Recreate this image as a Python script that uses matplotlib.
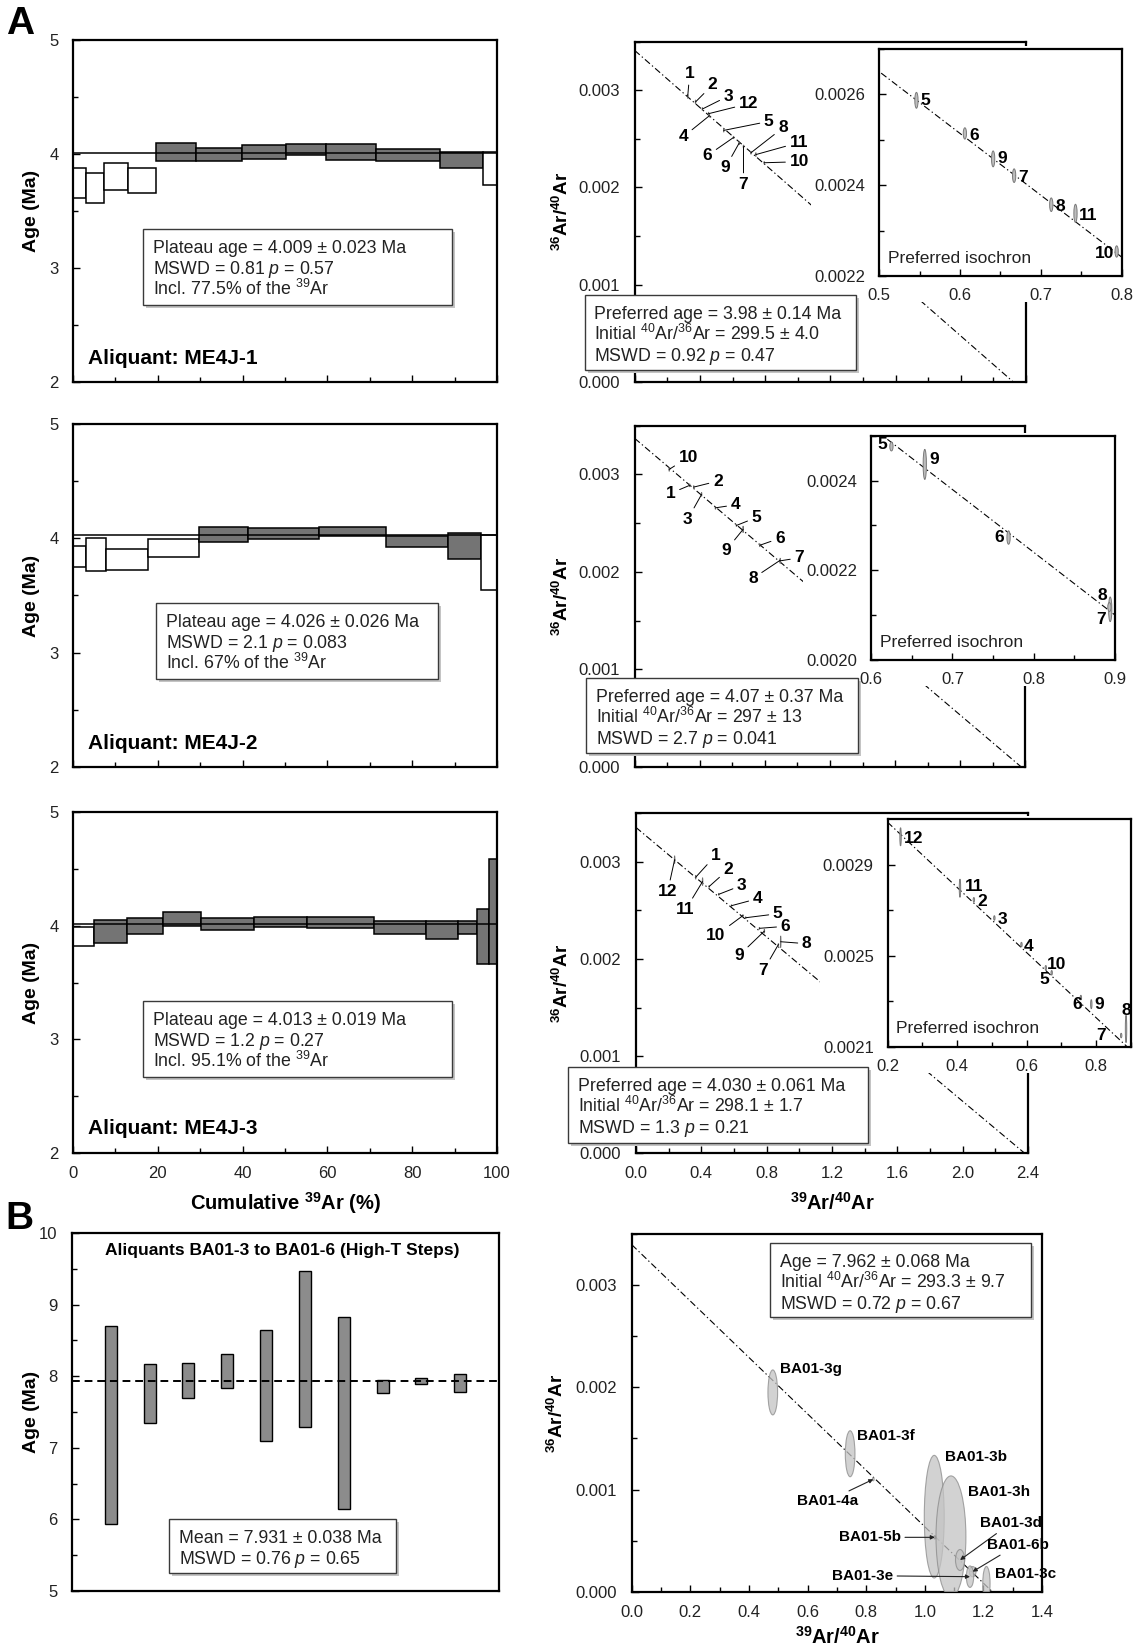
import matplotlib
matplotlib.use("Agg")
import matplotlib.pyplot as plt
import numpy as np
from matplotlib.patches import Ellipse, Rectangle
from matplotlib.ticker import FormatStrFormatter, MultipleLocator

W, H = 1140, 1647  # output size in pixels

plt.rcParams["font.family"] = ["Liberation Sans", "DejaVu Sans"]
plt.rcParams["mathtext.fontset"] = "custom"
plt.rcParams["mathtext.rm"] = "Liberation Sans"
plt.rcParams["mathtext.it"] = "Liberation Sans:italic"
plt.rcParams["mathtext.bf"] = "Liberation Sans:bold"

# ---------------- data ----------------
# age spectra: step edges (cumulative 39Ar, %), step tops / bottoms (Ma)
me4j1_edges = [0, 3.0, 7.3, 12.9, 19.5, 29.0, 39.8, 50.2, 59.7, 71.5, 86.6, 96.6, 100]
me4j1_top = [3.88, 3.83, 3.92, 3.88, 4.10, 4.05, 4.08, 4.09, 4.09, 4.04, 4.02, 4.02]
me4j1_bot = [3.61, 3.57, 3.68, 3.66, 3.94, 3.94, 3.96, 3.99, 3.95, 3.94, 3.88, 3.73]
me4j1_used = [0, 0, 0, 0, 1, 1, 1, 1, 1, 1, 1, 0]
me4j1_plateau = 4.009

me4j2_edges = [0, 3.0, 7.8, 17.7, 29.7, 41.3, 58.1, 73.8, 88.4, 96.2, 100]
me4j2_top = [3.93, 4.00, 3.91, 3.99, 4.10, 4.09, 4.10, 4.02, 4.05, 4.03]
me4j2_bot = [3.75, 3.71, 3.72, 3.84, 3.97, 3.99, 4.02, 3.92, 3.82, 3.55]
me4j2_used = [0, 0, 0, 0, 1, 1, 1, 1, 1, 0]
me4j2_plateau = 4.026

me4j3_edges = [0, 5.0, 12.8, 21.3, 30.2, 42.8, 55.2, 70.9, 83.2, 90.7, 95.2, 98.1, 100]
me4j3_top = [3.99, 4.05, 4.07, 4.12, 4.07, 4.08, 4.08, 4.04, 4.04, 4.04, 4.15, 4.59]
me4j3_bot = [3.82, 3.85, 3.93, 4.00, 3.96, 3.99, 3.98, 3.93, 3.88, 3.93, 3.66, 3.66]
me4j3_used = [0, 1, 1, 1, 1, 1, 1, 1, 1, 1, 1, 1]
me4j3_plateau = 4.013

# isochrons: step label, 39Ar/40Ar, 36Ar/40Ar, 36Ar/40Ar error (full height)
iso_sx = 0.004  # 39Ar/40Ar error (full width), all steps
iso1_labels = ["1", "2", "3", "12", "4", "5", "6", "9", "7", "8", "11", "10"]
iso1_x = [0.325, 0.373, 0.415, 0.453, 0.458, 0.546, 0.606, 0.641, 0.667, 0.713, 0.743, 0.794]
iso1_y = [0.002937, 0.002880, 0.002807, 0.002759, 0.002738, 0.002587, 0.002514,
          0.002458, 0.002421, 0.002357, 0.002338, 0.002254]
iso1_ey = [0.00004, 0.00004, 0.00003, 0.00003, 0.00003, 0.000035, 0.000025,
           0.000035, 0.00003, 0.00003, 0.00004, 0.000025]
iso1_pref = ["5", "6", "9", "7", "8", "11", "10"]
iso1_fit_main = (0.00341, -0.00147)   # intercept, slope
iso1_fit_inset = (0.00333, -0.00136)

iso2_labels = ["10", "1", "2", "3", "4", "5", "9", "6", "7", "8"]
iso2_x = [0.212, 0.338, 0.363, 0.411, 0.496, 0.625, 0.666, 0.769, 0.894, 0.893]
iso2_y = [0.003052, 0.002888, 0.002870, 0.002795, 0.002657, 0.002476, 0.002436,
          0.002273, 0.002113, 0.002118]
iso2_ey = [0.00004, 0.00003, 0.00003, 0.00004, 0.00003, 0.00002, 0.000067,
           0.00003, 0.000055, 0.00002]
iso2_pref = ["5", "9", "6", "8", "7"]
iso2_fit_main = (0.00337, -0.00142)
iso2_fit_inset = (0.00336, -0.00140)

iso3_labels = ["12", "1", "2", "11", "3", "4", "5", "10", "6", "9", "8", "7"]
iso3_x = [0.237, 0.366, 0.448, 0.408, 0.507, 0.585, 0.672, 0.655, 0.756, 0.786, 0.886, 0.872]
iso3_y = [0.003023, 0.002842, 0.002746, 0.002797, 0.002666, 0.002549, 0.002425,
          0.002447, 0.002316, 0.002287, 0.002178, 0.002149]
iso3_ey = [0.00008, 0.00004, 0.00002, 0.00008, 0.00002, 0.00002, 0.00002,
           0.00002, 0.00002, 0.00004, 0.00012, 0.00002]
iso3_pref = ["12", "11", "2", "3", "4", "10", "5", "6", "9", "8", "7"]
iso3_fit_main = (0.003355, -0.00141)
iso3_fit_inset = (0.003373, -0.001432)

# panel B: high-T step ages (Ma), top / bottom of 2 sigma bars
ba_top = [8.70, 8.17, 8.18, 8.31, 8.65, 9.47, 8.83, 7.95, 7.98, 8.03]
ba_bot = [5.94, 7.35, 7.69, 7.84, 7.10, 7.29, 6.14, 7.77, 7.89, 7.78]
ba_mean = 7.931

# panel B isochron: ellipse centres and full widths / heights
ba_labels = ["BA01-3g", "BA01-3f", "BA01-4a", "BA01-3b", "BA01-3h",
             "BA01-5b", "BA01-3d", "BA01-6b", "BA01-3e", "BA01-3c"]
ba_x = [0.481, 0.745, 0.824, 1.032, 1.089, 1.034, 1.120, 1.163, 1.154, 1.210]
ba_y = [0.00195, 0.00135, 0.00110, 0.000734, 0.000538, 0.000532, 0.00031,
        0.000196, 0.000147, 0.000082]
ba_w = [0.033, 0.033, 0.006, 0.068, 0.102, 0.006, 0.031, 0.023, 0.025, 0.025]
ba_h = [0.00044, 0.00045, 0.00003, 0.00120, 0.00119, 0.00003, 0.000205,
        0.00010, 0.00021, 0.00033]
ba_fit = (0.003395, -0.00276)

# ---------------- layout (pixels, top-left origin) ----------------
SPEC_BOX = [(73, 40, 497, 382), (73, 424, 497, 767), (73, 812, 497, 1153)]
ISO_BOX = [(634.7, 41.7, 1026.1, 381.7), (634.7, 425.7, 1025.3, 766.7),
           (635.9, 813.3, 1028.1, 1153.3)]
INSET_BOX = [(879.3, 49, 1121.5, 276), (871.1, 435.7, 1115.1, 660),
             (887.7, 819.3, 1130.9, 1046.7)]
INSET_LIM = [(0.5, 0.8, 0.0022, 0.0027), (0.6, 0.9, 0.0020, 0.0025),
             (0.2, 0.9, 0.0021, 0.0031)]
SPEC_STAT = [(143, 229, 452, 305), (156, 603, 438, 679), (143, 1001, 452, 1077)]
ISO_STAT = [(584.5, 295, 856, 370), (586, 678, 858, 753), (568, 1067, 868, 1143)]

MAIN_OFF = [
    {"1": (2, 23), "2": (17, 17), "3": (26, 13), "12": (40, 10), "4": (-26, -21),
     "5": (45, 9), "6": (-26, -18), "9": (-14, -25), "7": (0, -38), "8": (32, 25),
     "11": (43, 12), "10": (35, 1)},
    {"10": (19, 12), "1": (-19, -8), "2": (24, 6), "3": (-14, -25), "4": (20, 3),
     "5": (20, 8), "9": (-17, -21), "6": (20, 7), "7": (19, 3), "8": (-27, -18)},
    {"12": (-7, -32), "1": (20, 22), "2": (19, 17), "11": (-17, -28), "3": (23, 9),
     "4": (26, 7), "5": (32, 4), "10": (-27, -20), "6": (26, 2), "9": (-25, -24),
     "8": (26, -2), "7": (-15, -26)},
]
INSET_OFF = [
    {"5": (9, 0), "6": (9, -2), "9": (9, 0), "7": (9, -2), "8": (9, -2),
     "11": (13, -2), "10": (-12, -2)},
    {"5": (-9, 2), "9": (9, 5), "6": (-9, 0), "8": (-7, 12), "7": (-9, -10)},
    {"12": (13, -2), "11": (14, 2), "2": (8, -2), "3": (8, -2), "4": (7, -2),
     "10": (11, 3), "5": (-7, -7), "6": (-4, -7), "9": (8, 0), "8": (0, 18),
     "7": (-20, 0)},
]
# (dx, dy, ha, leader)
BA_OFF = [(7, 23, "left", False), (7, 18, "left", False), (-46, -22, "center", True),
          (11, 60, "left", False), (17, 45, "left", False), (-34, 0, "right", True),
          (20, 37, "left", True), (14, 27, "left", True), (-77, 1, "right", True),
          (9, 9, "left", False)]

TICK_SIZE = 12
STAT_SIZE = 12.8
NUM_SIZE = 12.5
SPEC_GREY = "#747474"
BAR_GREY = "#8c8c8c"
ISO_LS = (0, (6, 2.5, 1.2, 2.5))


def fx(x):
    return x / W


def fy(y):
    return 1 - y / H


def px_axes(fig, box, zorder=0):
    """Axes placed from a pixel box (x0, y0, x1, y1)."""
    x0, y0, x1, y1 = box
    ax = fig.add_axes([fx(x0), fy(y1), (x1 - x0) / W, (y1 - y0) / H])
    ax.set_zorder(zorder)
    return ax


def style(ax, xpad=9.5, ypad=10.5):
    for s in ax.spines.values():
        s.set_linewidth(1.6)
    ax.tick_params(which="both", direction="in", top=False, right=False,
                   labelsize=TICK_SIZE, labelcolor="#222222")
    ax.tick_params(axis="x", which="both", pad=xpad)
    ax.tick_params(axis="y", which="both", pad=ypad)
    ax.tick_params(which="major", length=5, width=1)
    ax.tick_params(which="minor", length=3.5, width=1)


def stat_box(fig, box, lines):
    """White text box with a soft grey drop shadow, in figure pixels."""
    x0, y0, x1, y1 = box
    w, h = (x1 - x0) / W, (y1 - y0) / H
    fig.add_artist(Rectangle((fx(x0 + 3), fy(y1 + 3)), w, h, transform=fig.transFigure,
                             facecolor="#c4c4c4", edgecolor="none", zorder=3))
    fig.add_artist(Rectangle((fx(x0), fy(y1)), w, h, transform=fig.transFigure,
                             facecolor="white", edgecolor="#3a3a3a", lw=1.0, zorder=3.1))
    for i, txt in enumerate(lines):
        fig.text(fx(x0 + 10), fy(y0 + 24 + 21 * i), txt, ha="left", va="baseline",
                 fontsize=STAT_SIZE, color="#222222", zorder=3.2)


def draw_spectrum(ax, edges, top, bot, used, plateau, bottom_labels):
    for i in range(len(top)):
        face = SPEC_GREY if used[i] else "white"
        ax.add_patch(Rectangle((edges[i], bot[i]), edges[i + 1] - edges[i],
                               top[i] - bot[i], facecolor=face, edgecolor="black",
                               lw=1.1, zorder=2))
    ax.axhline(plateau, color="black", lw=1.1, zorder=3)
    ax.set_xlim(0, 100)
    ax.set_ylim(2, 5)
    style(ax)
    ax.xaxis.set_major_locator(MultipleLocator(20))
    ax.xaxis.set_minor_locator(MultipleLocator(10))
    ax.yaxis.set_major_locator(MultipleLocator(1))
    ax.yaxis.set_minor_locator(MultipleLocator(0.5))
    ax.tick_params(labelbottom=bottom_labels)


def iso_line(ax, fit):
    b, m = fit
    ax.plot([0, -b / m], [b, 0], color="black", lw=0.8, ls=ISO_LS, zorder=2)


def draw_iso_main(ax, xs, ys, eys, labels, offsets, fit, bottom_labels):
    iso_line(ax, fit)
    for x, y, ey in zip(xs, ys, eys):
        ax.add_patch(Ellipse((x, y), iso_sx, ey, facecolor="#b0b0b0",
                             edgecolor="#707070", lw=0.6, zorder=3))
    for x, y, lab in zip(xs, ys, labels):
        ax.annotate(lab, (x, y), xytext=offsets[lab], textcoords="offset pixels",
                    ha="center", va="center", fontsize=NUM_SIZE, fontweight="bold",
                    arrowprops=dict(arrowstyle="-", lw=0.7, color="black",
                                    shrinkA=1, shrinkB=0), zorder=4)
    ax.set_xlim(0, 2.4)
    ax.set_ylim(0, 0.0035)
    style(ax)
    ax.xaxis.set_major_locator(MultipleLocator(0.4))
    ax.xaxis.set_minor_locator(MultipleLocator(0.2))
    ax.yaxis.set_major_locator(MultipleLocator(0.001))
    ax.yaxis.set_minor_locator(MultipleLocator(0.0005))
    ax.xaxis.set_major_formatter(FormatStrFormatter("%.1f"))
    ax.yaxis.set_major_formatter(FormatStrFormatter("%.3f"))
    ax.tick_params(labelbottom=bottom_labels)


def draw_iso_inset(fig, main_ax, box, xs, ys, eys, labels, pref, offsets, fit, lims, k):
    x0, y0, x1, y1 = box
    # white backing inside the main axes: hides the fit line and right spine
    # under the inset, but stays below the main-plot step labels
    main_ax.add_patch(Rectangle((fx(x0 - 68), fy(y1 + 26)), (x1 - x0 + 76) / W,
                                (y1 - y0 + 29) / H, transform=fig.transFigure,
                                facecolor="white", edgecolor="none", zorder=2.8,
                                clip_on=False))
    ax = px_axes(fig, box, zorder=2)
    iso_line(ax, fit)
    for x, y, ey, lab in zip(xs, ys, eys, labels):
        if lab not in pref:
            continue
        ax.add_patch(Ellipse((x, y), iso_sx, ey, facecolor="#bdbdbd",
                             edgecolor="#7a7a7a", lw=0.7, zorder=3))
        ax.annotate(lab, (x, y), xytext=offsets[lab], textcoords="offset pixels",
                    ha="center", va="center", fontsize=NUM_SIZE, fontweight="bold")
    ax.text(0.035, 0.078, "Preferred isochron", transform=ax.transAxes,
            ha="left", va="center", fontsize=12.5, color="#222222")
    ax.set_xlim(lims[0], lims[1])
    ax.set_ylim(lims[2], lims[3])
    style(ax, xpad=9, ypad=10)
    if k == 2:
        ax.xaxis.set_major_locator(MultipleLocator(0.2))
        ax.xaxis.set_minor_locator(MultipleLocator(0.1))
        ax.set_yticks([0.0021, 0.0025, 0.0029])
        ax.set_yticks([0.0023, 0.0027], minor=True)
    else:
        ax.xaxis.set_major_locator(MultipleLocator(0.1))
        ax.xaxis.set_minor_locator(MultipleLocator(0.05))
        ax.yaxis.set_major_locator(MultipleLocator(0.0002))
        ax.yaxis.set_minor_locator(MultipleLocator(0.0001))
    ax.xaxis.set_major_formatter(FormatStrFormatter("%.1f"))
    ax.yaxis.set_major_formatter(FormatStrFormatter("%.4f"))


def main():
    fig = plt.figure(figsize=(W / 100, H / 100), dpi=100)

    # ---- panel A, left: age spectra ----
    spectra = [
        (me4j1_edges, me4j1_top, me4j1_bot, me4j1_used, me4j1_plateau),
        (me4j2_edges, me4j2_top, me4j2_bot, me4j2_used, me4j2_plateau),
        (me4j3_edges, me4j3_top, me4j3_bot, me4j3_used, me4j3_plateau),
    ]
    spec_text = [
        ["Plateau age = 4.009 ± 0.023 Ma", "MSWD = 0.81 $p$ = 0.57",
         "Incl. 77.5% of the $^{39}$Ar"],
        ["Plateau age = 4.026 ± 0.026 Ma", "MSWD = 2.1 $p$ = 0.083",
         "Incl. 67% of the $^{39}$Ar"],
        ["Plateau age = 4.013 ± 0.019 Ma", "MSWD = 1.2 $p$ = 0.27",
         "Incl. 95.1% of the $^{39}$Ar"],
    ]
    names = ["Aliquant: ME4J-1", "Aliquant: ME4J-2", "Aliquant: ME4J-3"]
    for k in range(3):
        ax = px_axes(fig, SPEC_BOX[k])
        draw_spectrum(ax, *spectra[k], bottom_labels=(k == 2))
        x0, y0, x1, y1 = SPEC_BOX[k]
        fig.text(fx(31), fy((y0 + y1) / 2), "Age (Ma)", rotation=90, ha="center",
                 va="center", fontsize=14, fontweight="bold")
        fig.text(fx(88), fy(y1 - 24), names[k], ha="left", va="center",
                 fontsize=15, fontweight="bold")
        stat_box(fig, SPEC_STAT[k], spec_text[k])
    fig.text(fx(285), fy(1203), r"$\mathbf{Cumulative\ {}^{39}Ar\ (\%)}$",
             ha="center", va="center", fontsize=14.5)

    # ---- panel A, right: isochrons ----
    isos = [
        (iso1_x, iso1_y, iso1_ey, iso1_labels, iso1_pref, iso1_fit_main, iso1_fit_inset),
        (iso2_x, iso2_y, iso2_ey, iso2_labels, iso2_pref, iso2_fit_main, iso2_fit_inset),
        (iso3_x, iso3_y, iso3_ey, iso3_labels, iso3_pref, iso3_fit_main, iso3_fit_inset),
    ]
    iso_text = [
        ["Preferred age = 3.98 ± 0.14 Ma",
         "Initial $^{40}$Ar/$^{36}$Ar = 299.5 ± 4.0", "MSWD = 0.92 $p$ = 0.47"],
        ["Preferred age = 4.07 ± 0.37 Ma",
         "Initial $^{40}$Ar/$^{36}$Ar = 297 ± 13", "MSWD = 2.7 $p$ = 0.041"],
        ["Preferred age = 4.030 ± 0.061 Ma",
         "Initial $^{40}$Ar/$^{36}$Ar = 298.1 ± 1.7", "MSWD = 1.3 $p$ = 0.21"],
    ]
    for k in range(3):
        xs, ys, eys, labs, pref, fit_m, fit_i = isos[k]
        ax = px_axes(fig, ISO_BOX[k])
        draw_iso_main(ax, xs, ys, eys, labs, MAIN_OFF[k], fit_m, bottom_labels=(k == 2))
        draw_iso_inset(fig, ax, INSET_BOX[k], xs, ys, eys, labs, pref, INSET_OFF[k],
                       fit_i, INSET_LIM[k], k)
        x0, y0, x1, y1 = ISO_BOX[k]
        fig.text(fx(562), fy((y0 + y1) / 2), r"$\mathbf{{}^{36}Ar/{}^{40}Ar}$",
                 rotation=90, ha="center", va="center", fontsize=13.5)
        stat_box(fig, ISO_STAT[k], iso_text[k])
    fig.text(fx(832), fy(1203), r"$\mathbf{{}^{39}Ar/{}^{40}Ar}$",
             ha="center", va="center", fontsize=14.5)

    # ---- panel B, left: weighted mean ----
    ax = px_axes(fig, (72, 1233, 499, 1591))
    pos = np.arange(1, len(ba_top) + 1)
    ax.bar(pos, np.array(ba_top) - np.array(ba_bot), bottom=ba_bot, width=0.31,
           color=BAR_GREY, edgecolor="black", lw=1.0, zorder=2)
    ax.axhline(ba_mean, color="black", lw=1.4, ls=(0, (4, 2.5)), zorder=3)
    ax.set_xlim(0, 11)
    ax.set_ylim(5, 10)
    style(ax)
    ax.set_xticks([])
    ax.yaxis.set_major_locator(MultipleLocator(1))
    ax.yaxis.set_minor_locator(MultipleLocator(0.5))
    fig.text(fx(282), fy(1250), "Aliquants BA01-3 to BA01-6 (High-T Steps)",
             ha="center", va="center", fontsize=12.5, fontweight="bold")
    fig.text(fx(31), fy(1412), "Age (Ma)", rotation=90, ha="center", va="center",
             fontsize=14, fontweight="bold")
    stat_box(fig, (169, 1519, 396, 1573),
             ["Mean = 7.931 ± 0.038 Ma", "MSWD = 0.76 $p$ = 0.65"])

    # ---- panel B, right: isochron ----
    ax = px_axes(fig, (631.8, 1234, 1042.1, 1591.7))
    iso_line(ax, ba_fit)
    for x, y, w, h in zip(ba_x, ba_y, ba_w, ba_h):
        ax.add_patch(Ellipse((x, y), w, h, facecolor="#c4c4c4", edgecolor="#8a8a8a",
                             lw=0.8, alpha=0.75, zorder=3))
    for x, y, lab, (dx, dy, ha, lead) in zip(ba_x, ba_y, ba_labels, BA_OFF):
        arrow = None
        if lead:
            arrow = dict(arrowstyle="-|>", mutation_scale=6, lw=0.8, color="#222222",
                         shrinkA=1, shrinkB=0)
        ax.annotate(lab, (x, y), xytext=(dx, dy), textcoords="offset pixels",
                    ha=ha, va="center", fontsize=11, fontweight="bold",
                    arrowprops=arrow, zorder=4)
    ax.set_xlim(0, 1.4)
    ax.set_ylim(0, 0.0035)
    style(ax)
    ax.xaxis.set_major_locator(MultipleLocator(0.2))
    ax.xaxis.set_minor_locator(MultipleLocator(0.1))
    ax.yaxis.set_major_locator(MultipleLocator(0.001))
    ax.yaxis.set_minor_locator(MultipleLocator(0.0005))
    ax.xaxis.set_major_formatter(FormatStrFormatter("%.1f"))
    ax.yaxis.set_major_formatter(FormatStrFormatter("%.3f"))
    fig.text(fx(557), fy(1413), r"$\mathbf{{}^{36}Ar/{}^{40}Ar}$", rotation=90,
             ha="center", va="center", fontsize=13.5)
    fig.text(fx(837), fy(1637), r"$\mathbf{{}^{39}Ar/{}^{40}Ar}$",
             ha="center", va="center", fontsize=14.5)
    stat_box(fig, (770, 1243, 1031, 1317),
             ["Age = 7.962 ± 0.068 Ma", "Initial $^{40}$Ar/$^{36}$Ar = 293.3 ± 9.7",
              "MSWD = 0.72 $p$ = 0.67"])

    # panel letters
    fig.text(fx(6), fy(24), "A", ha="left", va="center", fontsize=28, fontweight="bold")
    fig.text(fx(5), fy(1219), "B", ha="left", va="center", fontsize=28, fontweight="bold")

    fig.savefig("out.png", dpi=100)


if __name__ == '__main__':
    main()
